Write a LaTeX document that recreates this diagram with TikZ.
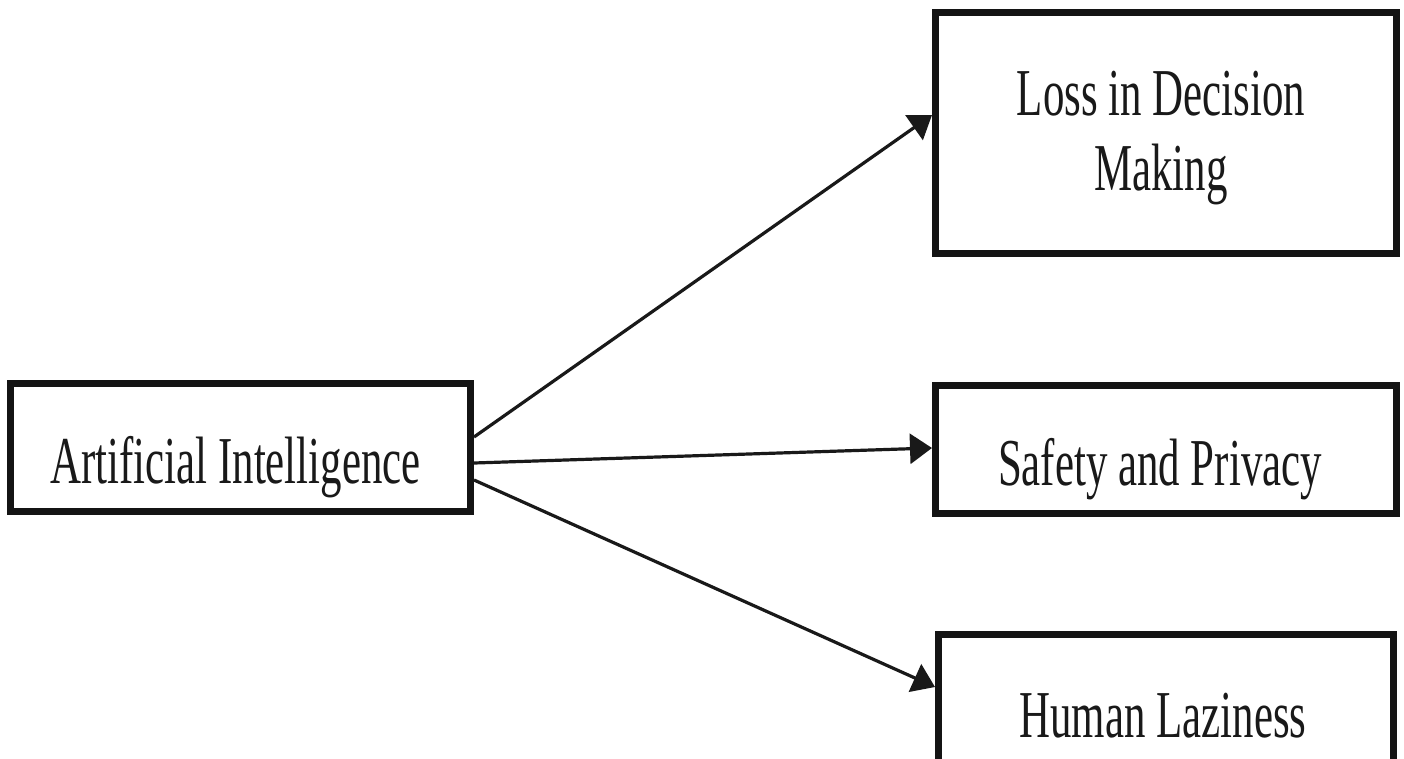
\documentclass[tikz,border=0pt]{standalone}
\usepackage{fontspec}
\newfontfamily\cf[FakeStretch=0.64]{Liberation Serif}
\usetikzlibrary{arrows.meta}
\begin{document}
\begin{tikzpicture}[x=1pt,y=-1pt,
  box/.style={draw=black!92,line width=7pt,rectangle,inner sep=0pt,fill=white},
  lbl/.style={inner sep=0pt,anchor=base,font=\cf\fontsize{67}{75}\selectfont,text=black!90},
  arr/.style={line width=3.2pt,draw=black!90,-{Triangle[length=22pt,width=30pt]}}]
\useasboundingbox (0,0) rectangle (1404,758);
\clip (0,0) rectangle (1404,758);
\fill[white] (0,0) rectangle (1404,758);
% boxes
\node[box,minimum width=460pt,minimum height=128pt] (ai) at (240.5,447) {};
\node[box,minimum width=461pt,minimum height=240.5pt] (loss) at (1166,133) {};
\node[box,minimum width=461pt,minimum height=128pt] (safe) at (1166,449.5) {};
\node[box,minimum width=455pt,minimum height=128pt] (lazy) at (1166,698.5) {};
% labels
\node[lbl] (tai) at (235.5,483) {Artificial Intelligence};
\node[lbl] (tloss1) at (1161,115) {Loss in Decision};
\node[lbl] (tloss2) at (1161,190) {Making};
\node[lbl] (tsafe) at (1160,485) {Safety and Privacy};
\node[lbl] (tlazy) at (1163,737) {Human Laziness};
% connectors
\draw[arr] ([yshift=10pt]ai.east) -- ([yshift=18pt]loss.west);
\draw[arr] ([yshift=-16pt]ai.east) -- ([yshift=1.5pt]safe.west);
\draw[arr] ([yshift=-33pt]ai.east) -- ([yshift=11.5pt]lazy.west);
\end{tikzpicture}
\end{document}
